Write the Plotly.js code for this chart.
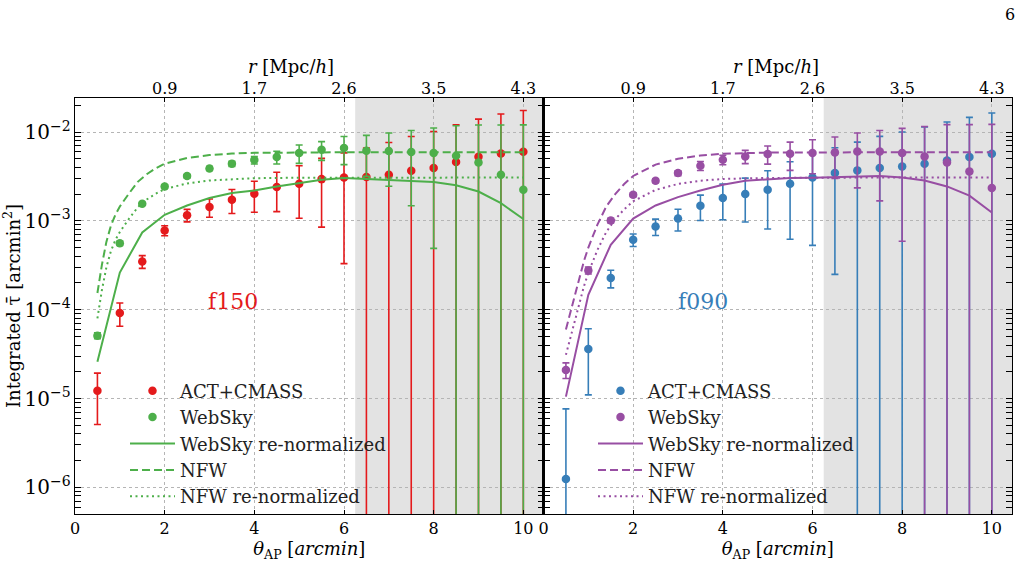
<!DOCTYPE html>
<html><head><meta charset="utf-8">
<script src="https://cdn.plot.ly/plotly-3.0.1.min.js"></script>
<style>html,body{margin:0;padding:0;background:#fff}#chart{width:1023px;height:588px}</style>
</head><body><div id="chart"></div>
<script>
// ---- data ----
const theta = [0.5,1.0,1.5,2.0,2.5,3.0,3.5,4.0,4.5,5.0,5.5,6.0,6.5,7.0,7.5,8.0,8.5,9.0,9.5,10.0];
const thetaModel = [0.5,0.6,0.7,0.8,0.9,1.0,1.2,1.4,1.6,1.8,2.0,2.5,3.0,3.5,4.0,5.0,6.0,7.0,8.0,9.0,10.0];

// f150
const act150 = [1.22e-5,9.2e-5,3.49e-4,7.8e-4,1.16e-3,1.43e-3,1.73e-3,2.02e-3,2.4e-3,2.62e-3,2.95e-3,3.08e-3,3.11e-3,3.3e-3,3.66e-3,3.93e-3,4.59e-3,5.27e-3,5.74e-3,6.0e-3];
const act150Err = [7.1e-6,2.7e-5,5.7e-5,1.0e-4,1.85e-4,3.3e-4,5.2e-4,7.7e-4,1.13e-3,1.55e-3,2.1e-3,2.75e-3,3.5e-3,4.33e-3,5.26e-3,6.2e-3,7.5e-3,8.7e-3,1.02e-2,1.15e-2];
const web150 = [5.1e-5,5.6e-4,1.56e-3,2.44e-3,3.19e-3,3.89e-3,4.39e-3,4.83e-3,5.22e-3,5.79e-3,6.3e-3,6.6e-3,6.17e-3,6.1e-3,5.95e-3,5.79e-3,5.41e-3,4.55e-3,3.3e-3,2.24e-3];
const web150Err = [4e-6,3e-5,6e-5,1e-4,1.4e-4,2e-4,3e-4,4.6e-4,8.5e-4,1.35e-3,1.5e-3,2.3e-3,3.0e-3,3.65e-3,4.47e-3,5.3e-3,6.37e-3,7.45e-3,8.7e-3,9.8e-3];
const webRenorm150 = [2.6e-5,2.62e-4,7.4e-4,1.17e-3,1.49e-3,1.81e-3,2.06e-3,2.2e-3,2.44e-3,2.67e-3,2.9e-3,3.03e-3,2.95e-3,2.88e-3,2.84e-3,2.74e-3,2.51e-3,2.14e-3,1.58e-3,1.05e-3];
const nfw150 = [1.54e-4,3.2e-4,5.8e-4,8.8e-4,1.17e-3,1.45e-3,2.02e-3,2.75e-3,3.35e-3,3.9e-3,4.4e-3,5.1e-3,5.5e-3,5.72e-3,5.83e-3,5.9e-3,5.92e-3,5.92e-3,5.92e-3,5.92e-3,5.92e-3];
const nfwRenorm150 = [8.0e-5,1.66e-4,3.0e-4,4.56e-4,6.06e-4,7.5e-4,1.05e-3,1.42e-3,1.74e-3,2.02e-3,2.28e-3,2.64e-3,2.85e-3,2.96e-3,3.02e-3,3.06e-3,3.07e-3,3.07e-3,3.07e-3,3.07e-3,3.07e-3];

// f090
const act090 = [1.24e-6,3.6e-5,2.27e-4,6.12e-4,8.65e-4,1.06e-3,1.48e-3,1.81e-3,2.0e-3,2.24e-3,2.62e-3,3.08e-3,3.45e-3,3.7e-3,3.93e-3,4.1e-3,4.4e-3,4.79e-3,5.22e-3,5.7e-3];
const act090Err = [6.4e-6,2.5e-5,5.1e-5,9.8e-5,1.8e-4,2.9e-4,4.7e-4,7.8e-4,1.03e-3,1.43e-3,2.0e-3,2.55e-3,3.2e-3,4.0e-3,5.0e-3,5.9e-3,7.0e-3,8.2e-3,9.4e-3,1.07e-2];
const web090 = [2.1e-5,2.77e-4,1.01e-3,1.97e-3,2.83e-3,3.45e-3,4.17e-3,4.88e-3,5.31e-3,5.65e-3,5.7e-3,5.79e-3,5.9e-3,6.05e-3,6.05e-3,5.79e-3,5.31e-3,4.55e-3,3.6e-3,2.34e-3];
const web090Err = [4.2e-6,2.5e-5,6e-5,1e-4,1.5e-4,2.2e-4,4.8e-4,6e-4,9e-4,1.3e-3,2.0e-3,2.4e-3,2.9e-3,3.7e-3,4.37e-3,5.2e-3,6.25e-3,7.55e-3,8.5e-3,9.85e-3];
const webRenorm090 = [1.05e-5,1.47e-4,5.38e-4,1.06e-3,1.49e-3,1.85e-3,2.2e-3,2.55e-3,2.83e-3,2.95e-3,3.03e-3,3.06e-3,3.11e-3,3.2e-3,3.2e-3,3.08e-3,2.85e-3,2.44e-3,1.92e-3,1.24e-3];
const nfw090 = [6.0e-5,9.5e-5,1.5e-4,2.3e-4,3.5e-4,5.0e-4,9.0e-4,1.45e-3,2.0e-3,2.6e-3,3.2e-3,4.3e-3,5.0e-3,5.45e-3,5.7e-3,5.87e-3,5.92e-3,5.92e-3,5.92e-3,5.92e-3,5.92e-3];
const nfwRenorm090 = [3.1e-5,4.9e-5,7.8e-5,1.19e-4,1.82e-4,2.6e-4,4.67e-4,7.5e-4,1.04e-3,1.35e-3,1.66e-3,2.23e-3,2.6e-3,2.83e-3,2.96e-3,3.04e-3,3.07e-3,3.07e-3,3.07e-3,3.07e-3,3.07e-3];

// top axis (r in Mpc/h) labels at theta ticks
const rTickTheta = [2,4,6,8,10];
const rTickLabels = ['0.9','1.7','2.6','3.5','4.3'];
const shadeStart = 6.25;

// ---- style ----
const RED='#e41a1c', GREEN='#4daf4a', BLUE='#377eb8', PURPLE='#984ea3';
const FONT='DejaVu Serif, serif';
const xRange=[0,10.45], yRange=[-6.30,-1.617];
const M={l:75,r:11,t:98,b:74}, W=1023, H=588;
const px=(X)=>(X-M.l)/(W-M.l-M.r), py=(Y)=>(H-M.b-Y)/(H-M.t-M.b);

function pts(x,y,err,color,name,xa,ya,leg){
  return {x:x,y:y,type:'scatter',mode:'markers',name:name,xaxis:xa,yaxis:ya,legend:leg,
    marker:{color:color,size:8.5},
    error_y:{type:'data',array:err,visible:true,color:color,thickness:1.6,width:3.5}};
}
function line(x,y,color,dash,name,xa,ya,leg){
  return {x:x,y:y,type:'scatter',mode:'lines',name:name,xaxis:xa,yaxis:ya,legend:leg,
    line:{color:color,width:2,dash:dash}};
}
// carrier (draws nothing) so the top r-axes get rendered
function carrier(xa,ya,y){
  return {x:theta,y:y,type:'scatter',mode:'none',xaxis:xa,yaxis:ya,showlegend:false,hoverinfo:'skip'};
}
const DASH='8px,4px', DOT='2px,3.5px';

const data=[
  pts(theta,act150,act150Err,RED,'ACT+CMASS','x','y','legend'),
  pts(theta,web150,web150Err,GREEN,'WebSky','x','y','legend'),
  line(theta,webRenorm150,GREEN,'solid','WebSky re-normalized','x','y','legend'),
  line(thetaModel,nfw150,GREEN,DASH,'NFW','x','y','legend'),
  line(thetaModel,nfwRenorm150,GREEN,DOT,'NFW re-normalized','x','y','legend'),
  pts(theta,act090,act090Err,BLUE,'ACT+CMASS','x2','y2','legend2'),
  pts(theta,web090,web090Err,PURPLE,'WebSky','x2','y2','legend2'),
  line(theta,webRenorm090,PURPLE,'solid','WebSky re-normalized','x2','y2','legend2'),
  line(thetaModel,nfw090,PURPLE,DASH,'NFW','x2','y2','legend2'),
  line(thetaModel,nfwRenorm090,PURPLE,DOT,'NFW re-normalized','x2','y2','legend2'),
  carrier('x3','y',act150),
  carrier('x4','y2',act090)
];

const tickFont={family:FONT,size:16,color:'#000'};
const titleFont={family:FONT,size:18,color:'#000'};
function xBottom(dom,anchor){
  return {domain:dom,anchor:anchor,range:xRange,tickvals:[0,2,4,6,8,10],ticks:'inside',ticklen:4,tickcolor:'#000',
    showline:true,linecolor:'#000',linewidth:1.2,mirror:true,zeroline:false,
    showgrid:true,gridcolor:'#b5b5b5',griddash:'dot',gridwidth:1,tickfont:tickFont,
    title:{text:'<i>θ</i><sub>AP</sub> [<i>arcmin</i>]',font:titleFont,standoff:2}};
}
function xTop(over,anchor){
  return {overlaying:over,anchor:anchor,side:'top',range:xRange,tickmode:'array',tickvals:rTickTheta,ticktext:rTickLabels,
    ticks:'inside',ticklen:4,tickcolor:'#000',showline:false,showgrid:false,zeroline:false,tickfont:tickFont};
}
function yAx(anchor,labels,match){
  const a={anchor:anchor,domain:[0,1],type:'log',range:yRange,dtick:1,exponentformat:'power',showexponent:'all',
    ticks:'inside',ticklen:6,tickcolor:'#000',showticklabels:labels,
    minor:{ticks:'inside',ticklen:3,tickcolor:'#000',showgrid:false},
    showline:true,linecolor:'#000',linewidth:1.2,mirror:'allticks',zeroline:false,
    showgrid:true,gridcolor:'#b5b5b5',griddash:'dot',gridwidth:1,tickfont:tickFont};
  if(labels){a.title={text:'Integrated τ̄ [arcmin<sup>2</sup>]',font:titleFont,standoff:1};}
  if(match){a.matches=match;}
  return a;
}

const LEG_ITEM_W=45;
const legendBase={xanchor:'left',yanchor:'top',bgcolor:'rgba(0,0,0,0)',itemwidth:LEG_ITEM_W,font:{family:FONT,size:18,color:'#222'}};
const layout={
  width:W,height:H,paper_bgcolor:'#fff',plot_bgcolor:'#fff',
  margin:M,
  font:{family:FONT,color:'#000'},
  xaxis:xBottom([0,0.5],'y'),
  xaxis2:xBottom([0.5,1],'y2'),
  xaxis3:xTop('x','y'),
  xaxis4:xTop('x2','y2'),
  yaxis:yAx('x',true),
  yaxis2:yAx('x2',false,'y'),
  legend:Object.assign({x:px(180-LEG_ITEM_W-10),y:py(372.5)},legendBase),
  legend2:Object.assign({x:px(648-LEG_ITEM_W-10),y:py(372.5)},legendBase),
  shapes:[
    {type:'rect',xref:'x',yref:'y domain',x0:shadeStart,x1:xRange[1],y0:0,y1:1,fillcolor:'#e3e3e3',line:{width:0},layer:'below'},
    {type:'rect',xref:'x2',yref:'y2 domain',x0:shadeStart,x1:xRange[1],y0:0,y1:1,fillcolor:'#e3e3e3',line:{width:0},layer:'below'}
  ],
  annotations:[
    {text:'f150',xref:'x',yref:'y',x:3.52,y:Math.log10(1.23e-4),xanchor:'center',yanchor:'middle',showarrow:false,font:{family:FONT,size:22,color:RED}},
    {text:'f090',xref:'x2',yref:'y2',x:3.55,y:Math.log10(1.23e-4),xanchor:'center',yanchor:'middle',showarrow:false,font:{family:FONT,size:22,color:BLUE}},
    {text:'<i>r</i> [Mpc/<i>h</i>]',xref:'paper',yref:'paper',x:px(291),y:py(66),xanchor:'center',yanchor:'middle',showarrow:false,font:titleFont},
    {text:'<i>r</i> [Mpc/<i>h</i>]',xref:'paper',yref:'paper',x:px(776),y:py(66),xanchor:'center',yanchor:'middle',showarrow:false,font:titleFont},
    {text:'6',xref:'paper',yref:'paper',x:px(1010),y:py(14),xanchor:'center',yanchor:'middle',showarrow:false,font:{family:FONT,size:16,color:'#000'}}
  ],
  showlegend:true
};
Plotly.newPlot('chart',data,layout,{displayModeBar:false,staticPlot:true});
</script></body></html>
